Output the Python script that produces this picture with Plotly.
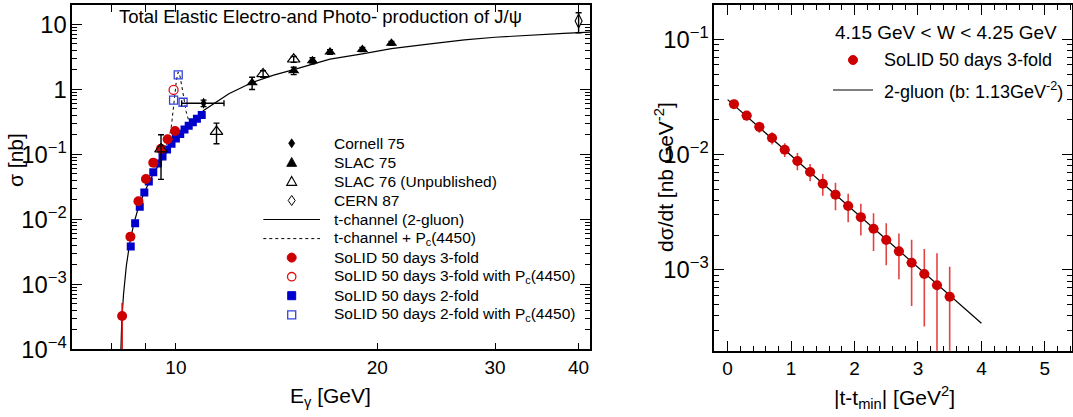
import numpy as np
import plotly.graph_objects as go

W, H = 1073, 417
FONT = "Liberation Sans, Arial, Helvetica, sans-serif"

# ---------------- Left panel data ----------------
cornell_E = [11.0]
cornell_sig = [0.61]
cornell_err = [0.07]
cornell_Eerr = [0.8]

slac75_E = [13.0, 15.0, 16.0, 17.0, 19.0, 21.0]
slac75_sig = [1.26, 1.93, 2.75, 3.75, 4.1, 5.1]
slac75_err = [0.27, 0.25, 0.3, 0.3, 0.3, 0.35]

slac76_E = [9.5, 11.5, 13.5, 15.0]
slac76_sig = [0.12, 0.223, 1.72, 2.89]
slac76_err = [0.079, 0.078, 0.2, 0.3]

cern_E = [40.0]
cern_sig = [11.2]
cern_err = [3.8]

solid3_E = [8.31, 8.55, 8.79, 9.02, 9.25, 9.50, 9.72, 9.97]
solid3_sig = [3.25e-4, 5.4e-3, 0.0189, 0.0417, 0.0743, 0.121, 0.170, 0.228]
solid3_errp = [1.9e-4, 0, 0, 0, 0, 0, 0, 0]
solid3_errm = [2.6e-4, 0, 0, 0, 0, 0, 0, 0]

solid3pc_E = [9.92]
solid3pc_sig = [0.975]

solid2_E = [8.56, 8.69, 8.83, 8.97, 9.11, 9.25, 9.40, 9.55, 9.70, 9.85,
            10.00, 10.15, 10.30, 10.45, 10.60, 10.75, 10.93]
solid2_sig = [0.0038, 0.0087, 0.0156, 0.0257, 0.038, 0.053, 0.072, 0.092, 0.118, 0.145,
              0.175, 0.205, 0.24, 0.275, 0.31, 0.35, 0.40]

solid2pc_E = [9.92, 10.08, 10.25]
solid2pc_sig = [0.68, 1.66, 0.63]

tchan_E = [8.22, 8.25, 8.27, 8.30, 8.35, 8.43, 8.53, 8.65, 8.8, 9.0, 9.25, 9.5, 9.75,
           10.0, 10.5, 11.0, 12.0, 13.0, 14.0, 15.0, 16.0, 17.0, 19.0, 21.0, 24.0,
           27.0, 30.0, 34.0, 38.0, 41.6]
tchan_sig = [1e-5, 5e-5, 1e-4, 2.8e-4, 7e-4, 1.9e-3, 4.3e-3, 8.5e-3, 0.016, 0.028, 0.05,
             0.08, 0.12, 0.17, 0.28, 0.47, 0.85, 1.27, 1.65, 2.0, 2.45, 2.9, 3.5, 4.2,
             5.0, 5.75, 6.3, 6.85, 7.25, 7.55]

pc_E = [9.6, 9.75, 9.85, 9.95, 10.02, 10.08, 10.14, 10.2, 10.28, 10.36, 10.45, 10.6]
pc_sig = [0.115, 0.16, 0.28, 0.75, 1.4, 1.85, 1.6, 1.15, 0.72, 0.45, 0.33, 0.33]

# ---------------- Right panel data ----------------
t_vals = [0.1, 0.3, 0.5, 0.7, 0.9, 1.1, 1.3, 1.5, 1.7, 1.9, 2.1, 2.3, 2.5, 2.7, 2.9, 3.1, 3.3, 3.5]
dsdt = [0.0274, 0.0218, 0.0174, 0.01396, 0.01104, 0.00881, 0.00708, 0.0056, 0.0045,
        0.00359, 0.00287, 0.00228, 0.00182, 0.00145, 0.001156, 0.000923, 0.000736, 0.000587]
dsdt_err = [0.0025, 0.0021, 0.0019, 0.0017, 0.0015, 0.0015, 0.0012, 0.0012, 0.0012,
            0.0010, 0.00088, 0.00082, 0.00072, 0.00062, 0.00067, 0.0006, 0.00066, 0.00048]
t_err = 0.08

gluon_t = [0.0, 4.0]
gluon_val = [0.0300, 0.000345]

# ---------------- page-pixel helpers (layout / decoration only) ----------------
def px(x):
    return x / W

def py(y):
    return 1 - y / H

fig = go.Figure()

ebar = dict(type="data", color="black", thickness=1.4, width=3)

# curves
fig.add_trace(go.Scatter(x=tchan_E, y=tchan_sig, mode="lines",
                         line=dict(color="black", width=1.2), xaxis="x", yaxis="y"))
fig.add_trace(go.Scatter(x=pc_E, y=pc_sig, mode="lines",
                         line=dict(color="black", width=1, dash="3px,3px"), xaxis="x", yaxis="y"))
# SoLID
fig.add_trace(go.Scatter(x=solid2_E, y=solid2_sig, mode="markers",
                         marker=dict(symbol="square", size=8, color="#0000cc"), xaxis="x", yaxis="y"))
fig.add_trace(go.Scatter(x=solid3_E, y=solid3_sig, mode="markers",
                         error_y=dict(type="data", array=solid3_errp, arrayminus=solid3_errm,
                                      color="#dd1111", thickness=1.6, width=0),
                         marker=dict(symbol="circle", size=10, color="#cc0000"), xaxis="x", yaxis="y"))
fig.add_trace(go.Scatter(x=solid2pc_E, y=solid2pc_sig, mode="markers",
                         marker=dict(symbol="square-open", size=8, color="#3344dd", line=dict(width=1.3)),
                         xaxis="x", yaxis="y"))
fig.add_trace(go.Scatter(x=solid3pc_E, y=solid3pc_sig, mode="markers",
                         marker=dict(symbol="circle-open", size=9, color="#dd1111", line=dict(width=1.3)),
                         xaxis="x", yaxis="y"))
# old experiments
fig.add_trace(go.Scatter(x=cornell_E, y=cornell_sig, mode="markers",
                         error_y=dict(array=cornell_err, **ebar),
                         error_x=dict(array=cornell_Eerr, **ebar),
                         marker=dict(symbol="diamond-tall", size=8, color="black"), xaxis="x", yaxis="y"))
fig.add_trace(go.Scatter(x=slac75_E, y=slac75_sig, mode="markers",
                         error_y=dict(array=slac75_err, **ebar),
                         marker=dict(symbol="triangle-up", size=10, color="black"), xaxis="x", yaxis="y"))
fig.add_trace(go.Scatter(x=slac76_E, y=slac76_sig, mode="markers",
                         error_y=dict(array=slac76_err, **ebar),
                         marker=dict(symbol="triangle-up-open", size=11, color="black", line=dict(width=1.2)),
                         xaxis="x", yaxis="y"))
fig.add_trace(go.Scatter(x=cern_E, y=cern_sig, mode="markers",
                         error_y=dict(array=cern_err, **ebar),
                         marker=dict(symbol="diamond-tall-open", size=10, color="black", line=dict(width=1.1)),
                         xaxis="x", yaxis="y"))

# right panel
fig.add_trace(go.Scatter(x=gluon_t, y=gluon_val, mode="lines",
                         line=dict(color="black", width=1.2), xaxis="x2", yaxis="y2"))
fig.add_trace(go.Scatter(x=t_vals, y=dsdt, mode="markers",
                         error_y=dict(type="data", array=dsdt_err, color="rgba(220,20,20,0.8)", thickness=1.6, width=0),
                         error_x=dict(type="constant", value=t_err, color="rgba(220,20,20,0.8)", thickness=1.6, width=0),
                         marker=dict(symbol="circle", size=10, color="#cc0000"), xaxis="x2", yaxis="y2"))

axcommon = dict(showline=True, linecolor="black", linewidth=1.6, mirror="allticks",
                ticks="inside", tickcolor="black", showgrid=False, zeroline=False,
                automargin=False, tickfont=dict(family=FONT, size=19, color="black"))

fig.update_layout(
    width=W, height=H, autosize=False, template="none",
    paper_bgcolor="white", plot_bgcolor="white",
    margin=dict(l=0, r=0, t=0, b=0), showlegend=False,
    xaxis=dict(type="log", range=[np.log10(7.0), np.log10(41.6)],
               domain=[px(72.3), px(590)], anchor="y",
               tickvals=[8, 9, 10, 20, 30, 40], ticktext=["", "", "10", "20", "30", "40"],
               ticklen=7, **axcommon),
    yaxis=dict(type="log", range=[-4, 1.3], domain=[py(349.3), py(4.7)], anchor="x",
               dtick=1, exponentformat="power", ticklen=10,
               minor=dict(ticks="inside", ticklen=5, dtick="D1", tickcolor="black", showgrid=False),
               **axcommon),
    xaxis2=dict(range=[-0.21, 5.42], domain=[px(714.3), px(1071.5)], anchor="y2",
                dtick=1, tick0=0, ticklen=10,
                minor=dict(ticks="inside", ticklen=5, dtick=0.2, tickcolor="black", showgrid=False),
                **axcommon),
    yaxis2=dict(type="log", range=[-3.7, -0.7], domain=[py(350.7), py(4.7)], anchor="x2",
                dtick=1, exponentformat="power", ticklen=10,
                minor=dict(ticks="inside", ticklen=5, dtick="D1", tickcolor="black", showgrid=False),
                **axcommon),
)

ann = []
def text(x, y, s, size, xanchor="left", angle=0):
    ann.append(dict(x=px(x), y=py(y), xref="paper", yref="paper", text=s, showarrow=False,
                    xanchor=xanchor, yanchor="middle", textangle=angle,
                    font=dict(family=FONT, size=size, color="black")))

# titles
text(320, 17, "Total Elastic Electro-and Photo- production of J/ψ", 18.5, "center")
text(330, 397, "E<sub>γ</sub> [GeV]", 21, "center")
text(15, 160, "σ [nb]", 21, "center", -90)
text(894, 397, "|t-t<sub>min</sub>| [GeV<sup>2</sup>]", 21, "center")
text(664, 177, "dσ/dt [nb GeV<sup>-2</sup>]", 21, "center", -90)

# left legend
leg_rows = [143.3, 162.4, 181.4, 200.5, 219.5, 238.6, 257.6, 276.7, 295.7, 314.8]
leg_txt = ["Cornell 75", "SLAC 75", "SLAC 76 (Unpublished)", "CERN 87",
           "t-channel (2-gluon)", "t-channel + P<sub>c</sub>(4450)",
           "SoLID 50 days 3-fold", "SoLID 50 days 3-fold with P<sub>c</sub>(4450)",
           "SoLID 50 days 2-fold", "SoLID 50 days 2-fold with P<sub>c</sub>(4450)"]
for yy, s in zip(leg_rows, leg_txt):
    text(331.7, yy, s, 15.5)

shapes = []
cx = 291.7
def path(points, fill, line="black", lw=1.2):
    d = "M " + " L ".join(f"{px(a):.5f},{py(b):.5f}" for a, b in points) + " Z"
    shapes.append(dict(type="path", xref="paper", yref="paper", path=d,
                       fillcolor=fill, line=dict(color=line, width=lw)))
def box(x0, y0, x1, y1, fill, line, lw, kind="rect"):
    shapes.append(dict(type=kind, xref="paper", yref="paper", x0=px(x0), x1=px(x1),
                       y0=py(y1), y1=py(y0), fillcolor=fill, line=dict(color=line, width=lw)))
def hline(x0, x1, y, dash="solid", lw=1.2):
    shapes.append(dict(type="line", xref="paper", yref="paper", x0=px(x0), x1=px(x1),
                       y0=py(y), y1=py(y), line=dict(color="black", width=lw, dash=dash)))

r = leg_rows
path([(cx, r[0] - 4.5), (cx + 3, r[0]), (cx, r[0] + 4.5), (cx - 3, r[0])], "black", lw=0.8)
path([(cx, r[1] - 5), (cx + 5, r[1] + 4), (cx - 5, r[1] + 4)], "black", lw=0.8)
path([(cx, r[2] - 5), (cx + 5, r[2] + 4), (cx - 5, r[2] + 4)], "rgba(0,0,0,0)", lw=1.1)
path([(cx, r[3] - 5), (cx + 3.5, r[3]), (cx, r[3] + 5), (cx - 3.5, r[3])], "rgba(0,0,0,0)", lw=1.0)
hline(263.3, 320, r[4])
hline(263.3, 320, r[5], dash="3px,3px", lw=1)
box(cx - 4.5, r[6] - 4.5, cx + 4.5, r[6] + 4.5, "#cc0000", "#cc0000", 1, "circle")
box(cx - 4.2, r[7] - 4.2, cx + 4.2, r[7] + 4.2, "rgba(0,0,0,0)", "#dd1111", 1.3, "circle")
box(cx - 4, r[8] - 4, cx + 4, r[8] + 4, "#0000cc", "#0000cc", 1)
box(cx - 4, r[9] - 4, cx + 4, r[9] + 4, "rgba(0,0,0,0)", "#3344dd", 1.3)

# right legend
text(833, 33, "4.15 GeV &lt; W &lt; 4.25 GeV", 19)
text(881.7, 60, "SoLID 50 days 3-fold", 18)
text(881.7, 90, "2-gluon (b: 1.13GeV<sup>-2</sup>)", 18)
box(853 - 4.5, 60 - 4.5, 853 + 4.5, 60 + 4.5, "#cc0000", "#cc0000", 1, "circle")
hline(833, 873, 90)

fig.update_layout(annotations=ann, shapes=shapes)
fig.write_html("out.html", config={"displayModeBar": False},
               post_script="document.body.style.margin='0';document.body.style.overflow='hidden';")
